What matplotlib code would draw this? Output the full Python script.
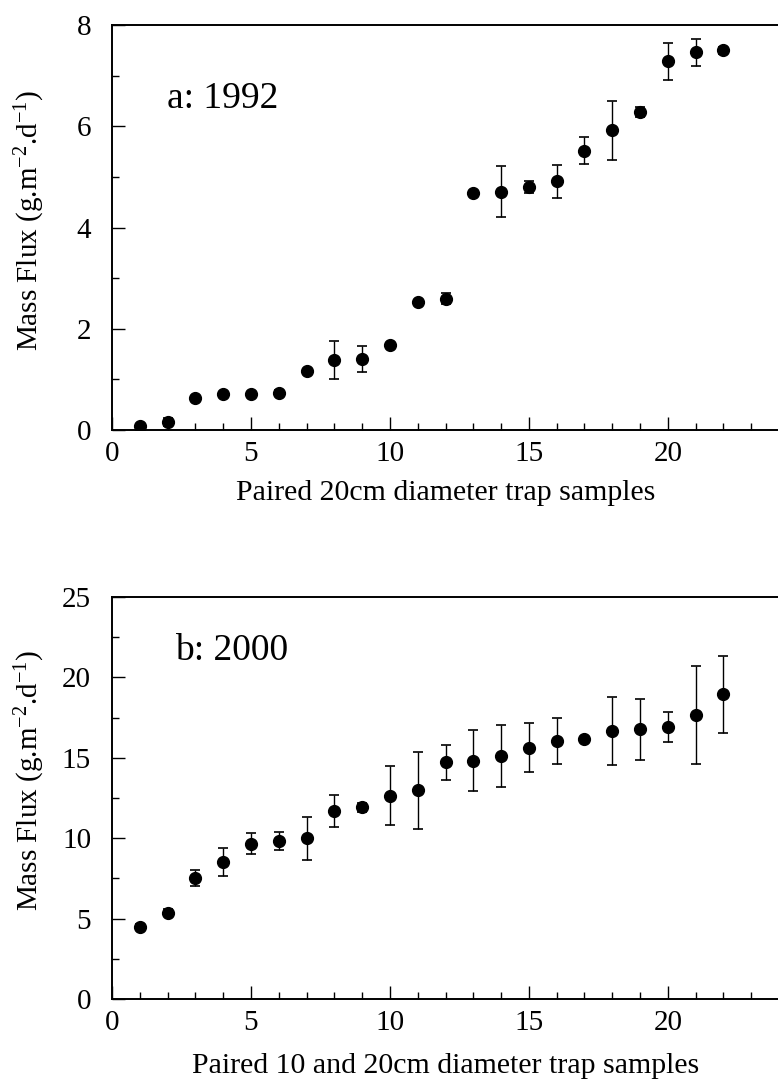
import matplotlib
matplotlib.use("Agg")
import matplotlib.pyplot as plt
from matplotlib.ticker import MultipleLocator

plt.rcParams['font.family'] = ['Liberation Serif', 'DejaVu Serif']
plt.rcParams['mathtext.fontset'] = 'custom'
plt.rcParams['mathtext.rm'] = 'Liberation Serif'
plt.rcParams['mathtext.it'] = 'Liberation Serif:italic'

# ---- data ----
samples = list(range(1, 23))

flux_1992 = [0.08, 0.16, 0.63, 0.71, 0.71, 0.73, 1.17, 1.38, 1.40, 1.67, 2.52,
             2.59, 4.68, 4.71, 4.80, 4.91, 5.52, 5.92, 6.29, 7.28, 7.46, 7.50]
err_1992 = [0.03, 0.08, 0.05, 0.05, 0.05, 0.06, 0.04, 0.37, 0.26, 0.05, 0.04,
            0.11, 0.04, 0.50, 0.12, 0.32, 0.27, 0.58, 0.10, 0.37, 0.26, 0.07]

flux_2000 = [4.49, 5.37, 7.54, 8.53, 9.67, 9.84, 9.99, 11.68, 11.91, 12.64, 12.99,
             14.71, 14.81, 15.12, 15.64, 16.05, 16.14, 16.68, 16.78, 16.92, 17.65, 18.94]
err_2000 = [0.15, 0.2, 0.5, 0.85, 0.65, 0.55, 1.32, 1.0, 0.3, 1.83, 2.4,
            1.1, 1.9, 1.95, 1.5, 1.45, 0.1, 2.12, 1.9, 0.93, 3.05, 2.4]

xticks = [0, 5, 10, 15, 20]
yticks_a = [0, 2, 4, 6, 8]
yticks_b = [0, 5, 10, 15, 20, 25]

panel_a = "a: 1992"
panel_b = "b: 2000"
xlabel_a = "Paired 20cm diameter trap samples"
xlabel_b = "Paired 10 and 20cm diameter trap samples"
ylabel = r"Mass Flux (g.m$^{-2}$.d$^{-1}$)"

W, H = 778, 1080
fig = plt.figure(figsize=(W / 100, H / 100), dpi=100)

def px_axes(left, top, right, bottom):
    return fig.add_axes([left / W, 1 - bottom / H, (right - left) / W, (bottom - top) / H])

ax1 = px_axes(112, 25, 779, 430)
ax2 = px_axes(112, 597, 779, 999)

def style(ax, ymax, yminor, yticks):
    ax.set_xlim(0, 24)
    ax.set_ylim(0, ymax)
    ax.set_xticks(xticks)
    ax.xaxis.set_minor_locator(MultipleLocator(1))
    ax.set_yticks(yticks)
    ax.yaxis.set_minor_locator(MultipleLocator(yminor))
    ax.tick_params(which='both', direction='in', top=False, right=False,
                   labelsize=21, width=1.0)
    ax.tick_params(which='major', length=9.5)
    ax.tick_params(which='minor', length=5)
    ax.tick_params(axis='y', pad=15)
    ax.tick_params(axis='x', pad=8)
    for s in ax.spines.values():
        s.set_linewidth(1.4)

for ax, y, e, ymax, ytk, ymin_, lab, lx, ly, xl, lp in [
        (ax1, flux_1992, err_1992, 8, yticks_a, 1, panel_a, 1.98, 6.36, xlabel_a, 9),
        (ax2, flux_2000, err_2000, 25, yticks_b, 2.5, panel_b, 2.27, 21.07, xlabel_b, 12)]:
    ax.errorbar(samples, y, yerr=e, fmt='o', color='black', markersize=8.5,
                ecolor='black', elinewidth=1.0, capsize=3.6, capthick=1.2)
    style(ax, ymax, ymin_, ytk)
    ax.text(lx, ly, lab, fontsize=27, ha='left', va='baseline')
    ax.set_xlabel(xl, fontsize=21.5, labelpad=lp)
    ax.set_ylabel(ylabel, fontsize=21)

ax1.yaxis.set_label_coords(-0.097, 0.518)
ax2.yaxis.set_label_coords(-0.097, 0.545)

fig.savefig("out.png", dpi=100)
